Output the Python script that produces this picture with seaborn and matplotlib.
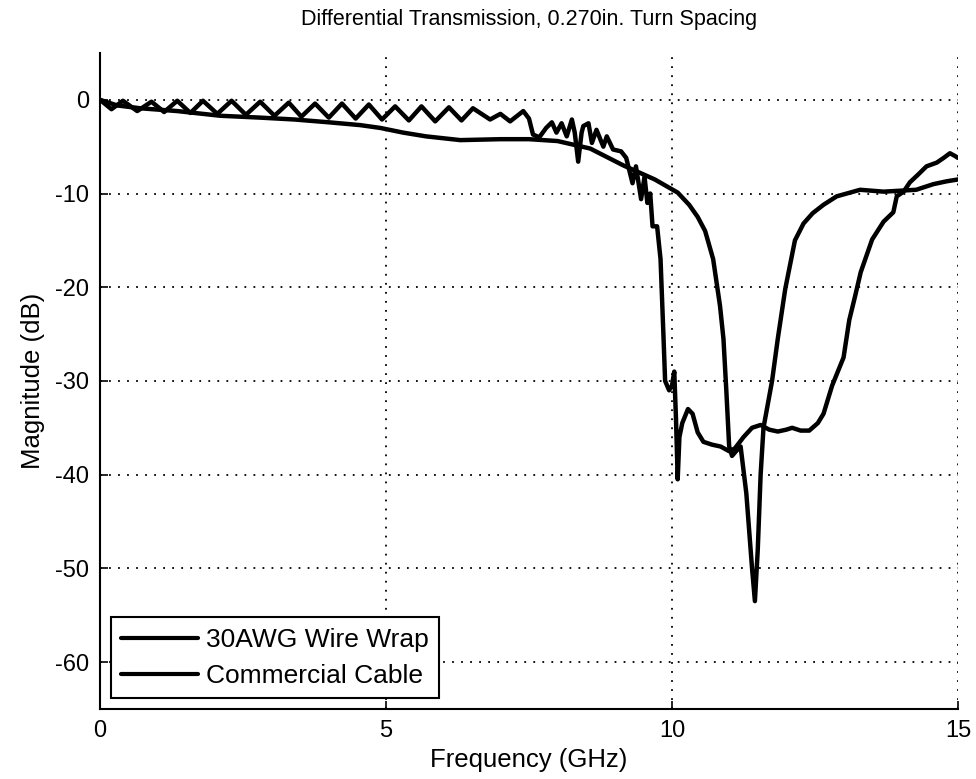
import numpy as np
import pandas as pd
import matplotlib
matplotlib.use("Agg")
import matplotlib.pyplot as plt
import seaborn as sns

# 30AWG wire wrap (rippled trace)
wire_f = [0.00, 0.10, 0.20, 0.40, 0.65, 0.90, 1.12, 1.35, 1.58, 1.80, 2.05, 2.30, 2.55, 2.80,
          3.05, 3.30, 3.52, 3.76, 4.00, 4.23, 4.47, 4.70, 4.93, 5.16, 5.40, 5.62, 5.86, 6.10,
          6.32, 6.52, 6.82, 7.00, 7.17, 7.40, 7.50, 7.57, 7.68, 7.80, 7.90, 7.98, 8.07, 8.16,
          8.25, 8.30, 8.36, 8.42, 8.45, 8.54, 8.60, 8.68, 8.80, 8.86, 8.97, 9.11, 9.20, 9.31,
          9.37, 9.46, 9.52, 9.57, 9.62, 9.66, 9.74, 9.80, 9.85, 9.88, 9.95, 10.00, 10.04, 10.07,
          10.10, 10.13, 10.18, 10.28, 10.36, 10.45, 10.55, 10.70, 10.85, 11.00, 11.10, 11.25,
          11.40, 11.55, 11.70, 11.85, 12.00, 12.10, 12.25, 12.40, 12.55, 12.65, 12.80, 12.90,
          13.00, 13.10, 13.20, 13.30, 13.50, 13.70, 13.87, 13.93, 14.05, 14.16, 14.30, 14.45,
          14.63, 14.75, 14.86, 14.95, 15.00]
wire_db = [0.0, -0.5, -1.0, -0.1, -1.2, -0.2, -1.3, -0.1, -1.4, -0.1, -1.5, -0.1, -1.6, -0.2,
           -1.7, -0.3, -1.8, -0.4, -1.9, -0.4, -2.0, -0.5, -2.1, -0.7, -2.2, -0.7, -2.3, -0.8,
           -2.2, -0.9, -2.1, -1.5, -2.3, -1.2, -2.0, -3.7, -4.0, -3.0, -2.4, -3.5, -2.5, -3.9,
           -2.1, -3.5, -6.6, -3.5, -2.8, -2.5, -4.6, -3.2, -5.0, -3.9, -5.3, -5.5, -6.2, -8.9,
           -7.1, -10.6, -8.2, -11.0, -10.0, -13.5, -13.5, -17.0, -25.0, -30.0, -31.0, -30.5, -29.0, -34.0,
           -40.5, -36.0, -34.5, -33.0, -33.5, -35.5, -36.5, -36.8, -37.0, -37.5, -37.2, -36.0,
           -35.0, -34.7, -35.2, -35.4, -35.2, -35.0, -35.3, -35.3, -34.5, -33.5, -30.5, -29.0,
           -27.5, -23.5, -21.0, -18.4, -14.9, -13.0, -12.0, -10.3, -9.8, -8.8, -8.0, -7.1,
           -6.7, -6.2, -5.7, -6.0, -6.2]

# Commercial cable (smooth trace)
cable_f = [0.0, 0.3, 0.7, 1.35, 2.1, 2.8, 3.4, 4.0, 4.55, 4.9, 5.3, 5.7, 6.3, 7.0, 7.5, 8.0,
           8.57, 9.15, 9.7, 10.1, 10.3, 10.45, 10.58, 10.72, 10.84, 10.9, 10.95, 11.0, 11.05,
           11.12, 11.2, 11.3, 11.4, 11.45, 11.5, 11.55, 11.6, 11.75, 11.85, 11.98, 12.15, 12.3,
           12.46, 12.65, 12.88, 13.29, 13.7, 14.27, 14.57, 14.8, 15.0]
cable_db = [0.0, -0.6, -0.9, -1.2, -1.7, -1.9, -2.1, -2.4, -2.7, -3.0, -3.5, -3.9, -4.3, -4.2,
            -4.2, -4.4, -5.2, -7.0, -8.5, -9.9, -11.2, -12.5, -14.0, -17.0, -22.0, -25.5, -31.0,
            -37.0, -38.0, -37.5, -37.0, -42.0, -50.0, -53.5, -48.0, -40.0, -35.0, -30.0, -25.5,
            -20.2, -15.0, -13.2, -12.1, -11.2, -10.3, -9.6, -9.8, -9.6, -9.0, -8.7, -8.5]

labels = ["30AWG Wire Wrap", "Commercial Cable"]
x_ticks = [0, 5, 10, 15]
y_ticks = [0, -10, -20, -30, -40, -50, -60]

df = pd.concat([
    pd.DataFrame({"f": wire_f, "db": wire_db, "trace": labels[0]}),
    pd.DataFrame({"f": cable_f, "db": cable_db, "trace": labels[1]}),
])

sns.set_style("ticks")
plt.rcParams["font.family"] = ["Liberation Sans", "DejaVu Sans"]
plt.rcParams["axes.unicode_minus"] = False
plt.rcParams["xtick.direction"] = "in"
plt.rcParams["ytick.direction"] = "in"
plt.rcParams["text.color"] = "black"
plt.rcParams["axes.labelcolor"] = "black"
plt.rcParams["xtick.color"] = "black"
plt.rcParams["ytick.color"] = "black"

fig = plt.figure(figsize=(9.76, 7.79), dpi=100)
ax = fig.add_axes([0.1025, 0.09, 0.879, 0.842])

sns.lineplot(data=df, x="f", y="db", hue="trace", hue_order=labels,
             palette=["black", "black"], estimator=None, sort=False,
             linewidth=3.2, ax=ax)

ax.set_xlim(0, 15)
ax.set_ylim(-65, 5)
ax.set_xticks(x_ticks)
ax.set_yticks(y_ticks)
ax.grid(True, color="black", linestyle=(0, (1, 4)), linewidth=1.3)
ax.tick_params(labelsize=17, length=6, width=1.2, pad=8)
for s in ["top", "right"]:
    ax.spines[s].set_visible(False)
for s in ["left", "bottom"]:
    ax.spines[s].set_color("black")
    ax.spines[s].set_linewidth(1.5)

ax.set_title("Differential Transmission, 0.270in. Turn Spacing", fontsize=15.5,
             pad=20, color="black")
ax.set_xlabel("Frequency (GHz)", fontsize=18.5, labelpad=4)
ax.set_ylabel("Magnitude (dB)", fontsize=18.5, labelpad=7)

leg = ax.legend(loc="lower left", fontsize=19, frameon=True, fancybox=False,
                borderaxespad=0.4, handlelength=2.9, handletextpad=0.3,
                borderpad=0.4, labelspacing=0.45)
leg.get_frame().set_edgecolor("black")
leg.get_frame().set_linewidth(1.5)
leg.get_frame().set_alpha(1)
for h in leg.get_lines():
    h.set_linewidth(3)

fig.savefig("out.png", dpi=100)
